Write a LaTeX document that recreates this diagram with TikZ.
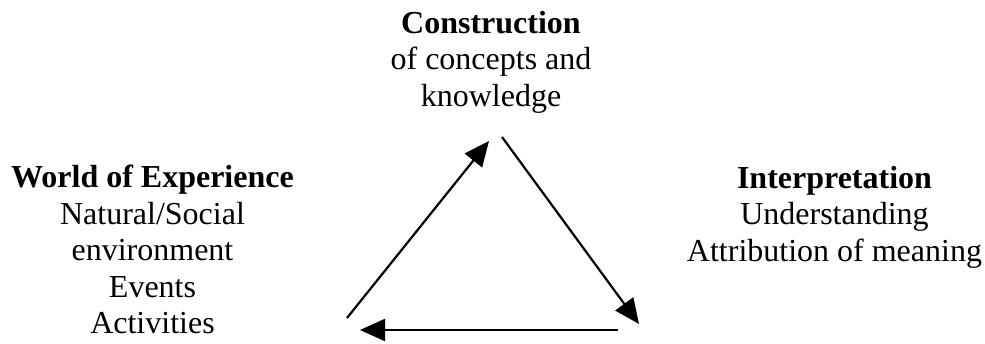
\documentclass[tikz,border=0pt]{standalone}
\usepackage{fontspec}
\setmainfont{Liberation Serif}
\usetikzlibrary{arrows.meta}

\begin{document}
\begin{tikzpicture}[x=1pt, y=-1pt, >={Triangle[length=25pt, width=22pt]}, line width=2.2pt]
\useasboundingbox (0,0) rectangle (985,344);
\tikzstyle{every node}=[font=\fontsize{32}{36.5}\selectfont, align=center, inner sep=0pt, anchor=north]
\node (constr) at (491,10) {\textbf{Construction}\\of concepts and\\knowledge};
\node (world) at (152.5,164) {\textbf{World of Experience}\\Natural/Social\\environment\\Events\\Activities};
\node (interp) at (834.5,165) {\textbf{Interpretation}\\Understanding\\Attribution of meaning};
% corners of the cycle
\coordinate (w1) at (347,318);
\coordinate (c1) at (489,141);
\coordinate (c2) at (502,137);
\coordinate (i1) at (639,324);
\coordinate (i2) at (618,330);
\coordinate (w2) at (360,330);
\path[->]
(w1) edge (c1)
(c2) edge (i1)
(i2) edge (w2);
\end{tikzpicture}
\end{document}
